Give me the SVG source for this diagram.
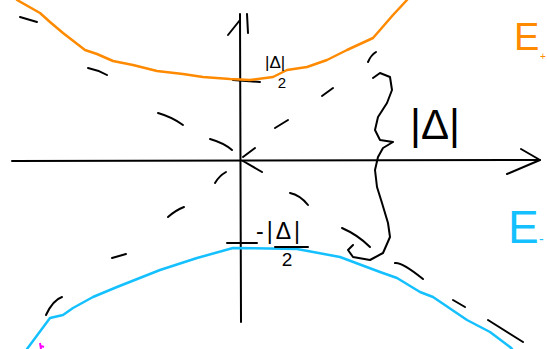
<svg xmlns="http://www.w3.org/2000/svg" width="547" height="349" viewBox="0 0 547 349">
<style>
.ink{fill:none;stroke:#000;stroke-width:2;stroke-linecap:round;stroke-linejoin:round}
.or{fill:none;stroke:#ff8a00;stroke-width:2.5;stroke-linecap:round;stroke-linejoin:round}
.bl{fill:none;stroke:#14c0ff;stroke-width:2.5;stroke-linecap:round;stroke-linejoin:round}
.lbl{font-family:"Liberation Sans","DejaVu Sans",sans-serif;fill:#000}
</style>
<rect width="547" height="349" fill="#fff"/>
<g id="axes">
<path class="ink" d="M12 161 L540 160"/>
<path class="ink" d="M521 149 L540 160 L507 174"/>
<path class="ink" d="M241 322 L240 14"/>
<path class="ink" d="M228 35 L240 20"/>
<path class="ink" d="M247 14 L248 33"/>
<path class="ink" d="M233 80 L260 82"/>
<path class="ink" d="M227 243 L257 243"/>
</g>
<g id="E-plus-curve">
<path class="or" d="M17 0 L40 13 L50 22 L63 33 L85 50 L97 54 L113 61 L133 65 L157 71 L183 74 L203 77 L230 79 L250 80 L273 77 L287 70 L307 67 L327 60 L347 50 L373 38 L380 30 L393 15 L407 0"/>
</g>
<g id="E-minus-curve">
<path class="bl" d="M27 349 L50 318 L63 315 L73 308 L93 297 L117 287 L160 270 L197 258 L233 248 L297 249 L340 257 L380 272 L397 278 L420 292 L433 297 L467 320 L490 332 L510 347 L512 349"/>
</g>
<g id="asymptotes">
<path class="ink" d="M20 17 L37 22"/>
<path class="ink" d="M88 68 Q98 70 107 75"/>
<path class="ink" d="M158 113 Q172 117 183 125"/>
<path class="ink" d="M210 139 Q224 143 232 150"/>
<path class="ink" d="M243 157 L255 148"/>
<path class="ink" d="M243 161 L262 172"/>
<path class="ink" d="M215 183 Q219 176 226 172"/>
<path class="ink" d="M168 217 Q176 210 184 207"/>
<path class="ink" d="M112 258 L126 254"/>
<path class="ink" d="M46 315 Q53 300 62 297"/>
<path class="ink" d="M275 128 L288 120"/>
<path class="ink" d="M322 96 L333 88"/>
<path class="ink" d="M368 62 Q371 55 376 52"/>
<path class="ink" d="M290 193 Q300 195 308 205"/>
<path class="ink" d="M342 228 Q358 235 370 247"/>
<path class="ink" d="M395 263 Q402 262 423 279"/>
<path class="ink" d="M453 300 L465 307"/>
<path class="ink" d="M488 320 L523 342"/>
</g>
<g id="brace">
<path class="ink" d="M373 78 L380 73 L390 77 L392 90 L387 103 L378 117 L375 130 L380 140 L393 142 L383 148 L378 157 L375 170 L377 187 L382 203 L388 223 L390 237 L383 253 L370 260 L353 257 L348 250 L353 245"/>
</g>
<g id="label-half-delta">
<text class="lbl" x="265" y="68" font-size="17">|Δ|</text>
<text class="lbl" x="282" y="88" font-size="15" text-anchor="middle">2</text>
</g>
<g id="label-neg-half-delta">
<text class="lbl" x="256" y="239" font-size="23" letter-spacing="3">-|Δ|</text>
<path class="ink" d="M275 247 L308 247"/>
<text class="lbl" x="287" y="266" font-size="19" text-anchor="middle">2</text>
</g>
<g id="label-delta">
<text class="lbl" x="435" y="139" font-size="42" text-anchor="middle">|Δ|</text>
</g>
<g id="label-E-plus">
<text x="514" y="50" font-family="'Liberation Sans',sans-serif" font-size="38" fill="#ff8a00">E</text>
<text x="540" y="60" font-family="'Liberation Sans',sans-serif" font-size="10" fill="#ff8a00">+</text>
</g>
<g id="label-E-minus">
<text x="508" y="243" font-family="'Liberation Sans',sans-serif" font-size="46" fill="#14c0ff">E</text>
<text x="539" y="244" font-family="'Liberation Sans',sans-serif" font-size="14" fill="#14c0ff">-</text>
</g>
<path d="M40 343 L41 349 M41 346 L44 347" fill="none" stroke="#ff00ff" stroke-width="2"/>
</svg>
